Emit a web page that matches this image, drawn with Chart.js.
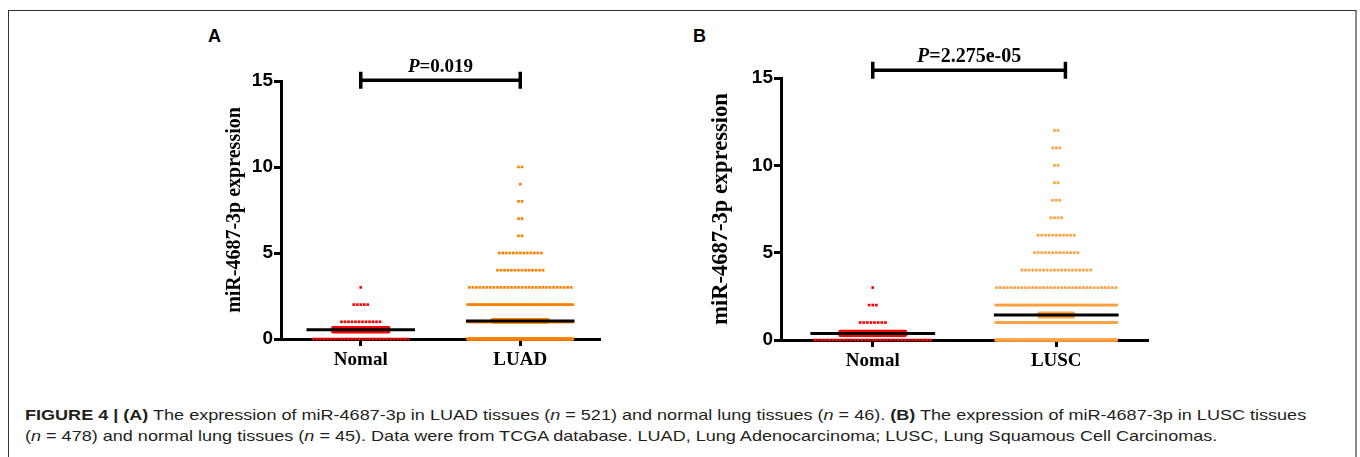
<!DOCTYPE html>
<html>
<head>
<meta charset="utf-8">
<script src="https://cdn.jsdelivr.net/npm/chart.js@4.4.1/dist/chart.umd.min.js"></script>
<style>
    html, body { margin: 0; padding: 0; background: #fff; }
    body { width: 1360px; height: 457px; position: relative; overflow: hidden; }
    .frame { position: absolute; left: 8px; top: 10px; width: 1346px; height: 470px; border: 1px solid #333; border-right: 2px solid #888; }
    .panel { position: absolute; }
    .letter { position: absolute; font: bold 18px "Liberation Sans", Arial, sans-serif; color: #000; }
    .caption { position: absolute; left: 25px; font: 15px "Liberation Sans", Arial, sans-serif; color: #231f20; line-height: 21px; white-space: nowrap; transform: scaleX(1.203); transform-origin: 0 0; }
</style>
</head>
<body>
<div class="frame"></div>
<div class="letter" style="left:208px; top:26px;">A</div>
<div class="letter" style="left:693px; top:26px;">B</div>
<canvas id="chartA" class="panel" width="430" height="360" style="left:190px; top:20px;"></canvas>
<canvas id="chartB" class="panel" width="480" height="360" style="left:690px; top:20px;"></canvas>
<div class="caption" style="top:404px;"><b>FIGURE 4 | (A)</b> The expression of miR-4687-3p in LUAD tissues (<i>n</i> = 521) and normal lung tissues (<i>n</i> = 46). <b>(B)</b> The expression of miR-4687-3p in LUSC tissues</div>
<div class="caption" style="top:425px;">(<i>n</i> = 478) and normal lung tissues (<i>n</i> = 45). Data were from TCGA database. LUAD, Lung Adenocarcinoma; LUSC, Lung Squamous Cell Carcinomas.</div>

<script>
// number of samples at each expression level (index = level 0, 1, 2, ...)
var groupsA = ['Nomal', 'LUAD'];
var groupsB = ['Nomal', 'LUSC'];
var nomalA = [28, 12, 5, 1];
var luad = [250, 145, 60, 30, 14, 13, 2, 2, 2, 1, 2];
var nomalB = [33, 8, 3, 1];
var lusc = [230, 84, 70, 34, 20, 13, 11, 4, 3, 2, 2, 3, 2];
var yTicks = [0, 5, 10, 15];
var pValueA = '0.019';
var pValueB = '2.275e-05';
var yTitle = 'miR-4687-3p expression';

(function () {

    var serif = '"Liberation Serif", "Times New Roman", serif';
    var sans = '"Liberation Sans", Arial, sans-serif';

    // lay the points of one group out in rows, one row per level
    var toPoints = function (counts, center, step, maxHalf) {
        var pts = [];
        counts.forEach(function (n, level) {
            var gap = n > 1 ? Math.min(step, 2 * maxHalf / (n - 1)) : 0;
            for (var i = 0; i < n; i++) {
                pts.push({ x: center + (i - (n - 1) / 2) * gap, y: level });
            }
        });
        return pts;
    };

    var stats = function (counts) {
        var n = 0, s = 0, s2 = 0;
        counts.forEach(function (c, v) { n += c; s += c * v; s2 += c * v * v; });
        var mean = s / n;
        var sd = Math.sqrt((s2 - n * mean * mean) / (n - 1));
        return { mean: mean, sem: sd / Math.sqrt(n) };
    };

    var markers = {
        id: 'markers',
        afterDatasetsDraw: function (chart, args, opts) {
            var ctx = chart.ctx, x = chart.scales.x, y = chart.scales.y;
            ctx.save();
            opts.counts.forEach(function (counts, i) {
                var st = stats(counts), c = i + 1;
                var yTop = y.getPixelForValue(st.mean + st.sem);
                var yBot = y.getPixelForValue(st.mean - st.sem);
                ctx.strokeStyle = opts.colors[i];
                ctx.lineWidth = 3.5;
                ctx.lineCap = 'round';
                ctx.beginPath();
                ctx.moveTo(x.getPixelForValue(c - opts.capHalf[i]), yTop);
                ctx.lineTo(x.getPixelForValue(c + opts.capHalf[i]), yTop);
                ctx.moveTo(x.getPixelForValue(c - opts.capHalf[i]), yBot);
                ctx.lineTo(x.getPixelForValue(c + opts.capHalf[i]), yBot);
                ctx.moveTo(x.getPixelForValue(c), yTop);
                ctx.lineTo(x.getPixelForValue(c), yBot);
                ctx.stroke();
                // mean line
                ctx.strokeStyle = '#000';
                ctx.lineWidth = 3;
                ctx.lineCap = 'butt';
                ctx.beginPath();
                ctx.moveTo(x.getPixelForValue(c - 0.34), y.getPixelForValue(st.mean));
                ctx.lineTo(x.getPixelForValue(c + 0.34), y.getPixelForValue(st.mean));
                ctx.stroke();
            });

            // significance bracket
            var bx1 = x.getPixelForValue(opts.bracket[0]);
            var bx2 = x.getPixelForValue(opts.bracket[1]);
            var by = y.getPixelForValue(opts.bracketY);
            ctx.strokeStyle = '#000';
            ctx.lineWidth = 3.5;
            ctx.beginPath();
            ctx.moveTo(bx1, by); ctx.lineTo(bx2, by);
            ctx.moveTo(bx1, by - 8.5); ctx.lineTo(bx1, by + 8.5);
            ctx.moveTo(bx2, by - 8.5); ctx.lineTo(bx2, by + 8.5);
            ctx.stroke();

            var fItal = 'italic bold ' + opts.pSize + 'px ' + serif;
            var fBold = 'bold ' + opts.pSize + 'px ' + serif;
            var rest = '=' + opts.pText;
            ctx.font = fItal;
            var w1 = ctx.measureText('P').width;
            ctx.font = fBold;
            var w2 = ctx.measureText(rest).width;
            var tx = (bx1 + bx2) / 2 - (w1 + w2) / 2;
            ctx.fillStyle = '#000';
            ctx.textBaseline = 'alphabetic';
            ctx.textAlign = 'left';
            ctx.font = fItal;
            ctx.fillText('P', tx, by - 8);
            ctx.font = fBold;
            ctx.fillText(rest, tx + w1, by - 8);
            ctx.restore();
        }
    };

    var makePanel = function (id, groups, counts, colors, cfg) {
        var datasets = counts.map(function (c, i) {
            return {
                data: toPoints(c, i + 1, cfg.step, 0.33),
                backgroundColor: colors[i],
                borderWidth: 0,
                pointStyle: 'rect',
                pointRadius: 1.9,
                clip: false
            };
        });

        new Chart(document.getElementById(id), {
            type: 'scatter',
            data: { datasets: datasets },
            plugins: [markers],
            options: {
                responsive: false,
                animation: false,
                devicePixelRatio: 1,
                layout: { padding: cfg.padding },
                plugins: {
                    legend: { display: false },
                    tooltip: { enabled: false },
                    markers: {
                        counts: counts,
                        colors: colors,
                        capHalf: cfg.capHalf,
                        bracket: cfg.bracket,
                        bracketY: cfg.bracketY,
                        pText: cfg.pText,
                        pSize: cfg.pSize
                    }
                },
                scales: {
                    x: {
                        type: 'linear',
                        min: 0.5,
                        max: 2.5,
                        afterBuildTicks: function (scale) {
                            scale.ticks = groups.map(function (g, i) { return { value: i + 1 }; });
                        },
                        afterFit: function (scale) { scale.height = cfg.xHeight; },
                        ticks: {
                            callback: function (v, i) { return groups[i]; },
                            font: { family: serif, size: 19, weight: 'bold' },
                            color: '#000',
                            padding: 3,
                            maxRotation: 0
                        },
                        grid: { drawOnChartArea: false, tickLength: 7, tickWidth: 3, tickColor: '#000' },
                        border: { display: true, width: 3, color: '#000' }
                    },
                    y: {
                        min: 0,
                        max: 15,
                        afterBuildTicks: function (scale) {
                            scale.ticks = yTicks.map(function (v) { return { value: v }; });
                        },
                        afterFit: function (scale) { scale.width = 91; },
                        ticks: {
                            font: { family: sans, size: 19, weight: 'bold' },
                            color: '#000',
                            padding: 1
                        },
                        grid: { drawOnChartArea: false, tickLength: 7, tickWidth: 3, tickColor: '#000' },
                        border: { display: true, width: 3, color: '#000' },
                        title: {
                            display: true,
                            text: yTitle,
                            color: '#000',
                            font: { family: serif, size: cfg.titleSize, weight: 'bold' },
                            padding: { top: cfg.titlePad, bottom: 0 }
                        }
                    }
                }
            }
        });
    };

    makePanel('chartA', groupsA, [nomalA, luad], ['#ff0000', '#ff8000'], {
        step: 0.022,
        padding: { left: 0, right: 20, top: 61, bottom: 0 },
        xHeight: 41,
        capHalf: [0.175, 0.175],
        bracket: [1, 2],
        bracketY: 15.05,
        pText: pValueA,
        pSize: 19,
        titleSize: 20,
        titlePad: 33
    });

    makePanel('chartB', groupsB, [nomalB, lusc], ['#ff0000', '#ffa040'], {
        step: 0.0197,
        padding: { left: 0, right: 22, top: 58, bottom: 0 },
        xHeight: 40,
        capHalf: [0.178, 0.093],
        bracket: [1, 2.05],
        bracketY: 15.45,
        pText: pValueB,
        pSize: 20,
        titleSize: 22.5,
        titlePad: 18
    });

})();
</script>
</body>
</html>
